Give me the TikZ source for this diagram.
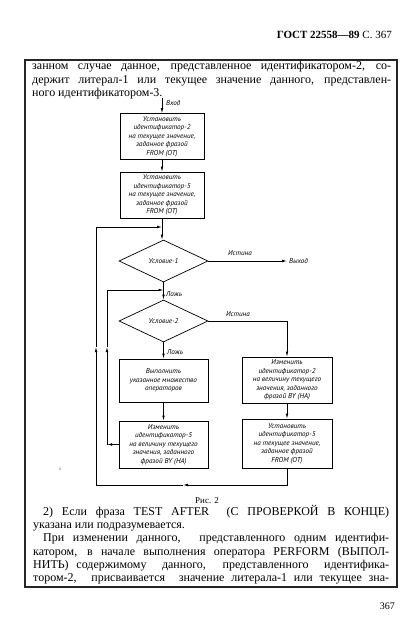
\documentclass[tikz,border=0pt]{standalone}
\usepackage{fontspec}
\setmainfont{Liberation Serif}
\newfontfamily\gostfont{PT Sans}
\usetikzlibrary{arrows.meta,shapes.geometric}
\begin{document}
\begin{tikzpicture}[x=1pt,y=-1pt,
  arr/.style={-{Latex[length=5pt,width=2.6pt]}},
  conn/.style={line width=0.7pt},
  gost/.style={font=\gostfont\itshape\fontsize{7.1}{8.5}\selectfont},
  box/.style={draw, line width=0.7pt, gost, align=center, inner sep=1pt},
  dia/.style={draw, diamond, line width=0.7pt, gost, inner sep=0pt, minimum width=89pt, minimum height=42pt},
  lbl/.style={gost, inner sep=0pt},
  body/.style={inner sep=0pt, anchor=base west, font=\fontsize{12}{13}\selectfont},
  frame/.style={draw, line width=1.1pt, black!85}
]
\useasboundingbox (0,0) rectangle (416,626);

% header
\node[inner sep=0pt, anchor=base east, font=\fontsize{11}{12}\selectfont] (hdr) at (392,38) {\textbf{ГОСТ 22558—89} С.~367};

% frame
\draw[frame] (25,60) rectangle (397,587);

% top text
\node[body] (t1) at (32,70) {\makebox[359pt][s]{занном случае данное, представленное идентификатором-2, со-}};
\node[body] (t2) at (32,83) {\makebox[359pt][s]{держит литерал-1 или текущее значение данного, представлен-}};
\node[body] (t3) at (32,96) {ного идентификатором-3.};

% flowchart nodes
\node[box, minimum width=84pt, minimum height=46pt] (b1) at (162,136.5) {Установить\\идентификатор-2\\на текущее значение,\\заданное фразой\\FROM (ОТ)};
\node[box, minimum width=84pt, minimum height=46pt] (b2) at (162,195) {Установить\\идентификатор-5\\на текущее значение,\\заданное фразой\\FROM (ОТ)};
\node[dia] (d1) at (163.5,261) {Условие-1};
\node[dia] (d2) at (163.5,321) {Условие-2};
\node[box, minimum width=89pt, minimum height=43pt] (b3) at (163.5,380.5) {Выполнить\\указанное множество\\операторов};
\node[box, minimum width=89pt, minimum height=47pt] (b4) at (163.5,444.5) {Изменить\\идентификатор-5\\на величину текущего\\значения, заданного\\фразой BY (НА)};
\node[box, minimum width=90pt, minimum height=46pt] (b5) at (287,380) {Изменить\\идентификатор-2\\на величину текущего\\значения, заданного\\фразой BY (НА)};
\node[box, minimum width=90pt, minimum height=49pt] (b6) at (287,443.5) {Установить\\идентификатор-5\\на текущее значение,\\заданное фразой\\FROM (ОТ)};

% coordinates
\coordinate (in) at (162,98);
\coordinate (out) at (287,261);
\coordinate (j1) at (162,227);
\coordinate (j2) at (163.5,290);
\coordinate (o2) at (183,485);
\coordinate (o3) at (96,485);
\coordinate (o4) at (96,347);
\coordinate (o5) at (96,227);
\coordinate (i1) at (107,444.5);
\coordinate (i2) at (107,347);
\coordinate (i3) at (107,290);

% labels
\node[lbl, anchor=west] (lin) at (166,103) {Вход};
\node[lbl, anchor=west] (lout) at (289,261) {Выход};
\node[lbl] (lt1) at (240,253) {Истина};
\node[lbl, anchor=west] (lf1) at (166,294) {Ложь};
\node[lbl] (lt2) at (238,314) {Истина};
\node[lbl, anchor=west] (lf2) at (167,352) {Ложь};
\node[inner sep=0pt, font=\fontsize{5}{6}\selectfont, black!60] (xmark) at (60,469) {x};

% connectors
\draw[conn,arr] (in) -- (b1);
\draw[conn,arr] (b1) -- (b2);
\draw[conn,arr] (b2) -- (d1.north -| b2);
\draw[conn,arr] (d1.east) -- (out);
\draw[conn,arr] (d1) -- (d2);
\draw[conn,arr] (d2.south) -- (b3);
\draw[conn,arr] (b3) -- (b4);
\draw[conn,arr] (d2.east) -| (b5.north);
\draw[conn,arr] (b5) -- (b6);
\draw[conn,arr] (b6.south) |- (o2);
\draw[conn] (o2) -- (o3);
\draw[conn,arr] (o3) -- (o4);
\draw[conn,arr] (o4) -- (o5) -- (j1);
\draw[conn,arr] (b4.west) -- (i1);
\draw[conn,arr] (i1) -- (i2);
\draw[conn,arr] (i2) -- (i3) -- (j2);

% bottom text
\node[inner sep=0pt, anchor=base, font=\fontsize{9}{11}\selectfont] (cap) at (207,503) {Рис. 2};
\node[body] (u1) at (43,515) {\makebox[346pt][s]{2) Если фраза TEST AFTER \ (С ПРОВЕРКОЙ В КОНЦЕ)}};
\node[body] (u2) at (33,528) {указана или подразумевается.};
\node[body] (u3) at (43,541.5) {\makebox[346pt][s]{При изменении данного, \ представленного одним идентифи-}};
\node[body] (u4) at (33,555) {\makebox[356pt][s]{катором, в начале выполнения оператора PERFORM (ВЫПОЛ-}};
\node[body] (u5) at (33,568) {\makebox[356pt][s]{НИТЬ) содержимому \ данного, \ представленного \ идентифика-}};
\node[body] (u6) at (33,581) {\makebox[356pt][s]{тором-2, \ присваивается \ значение литерала-1 или текущее зна-}};

\node[inner sep=0pt, anchor=base east, font=\fontsize{10}{12}\selectfont] (pg) at (395,609) {367};
\end{tikzpicture}
\end{document}
